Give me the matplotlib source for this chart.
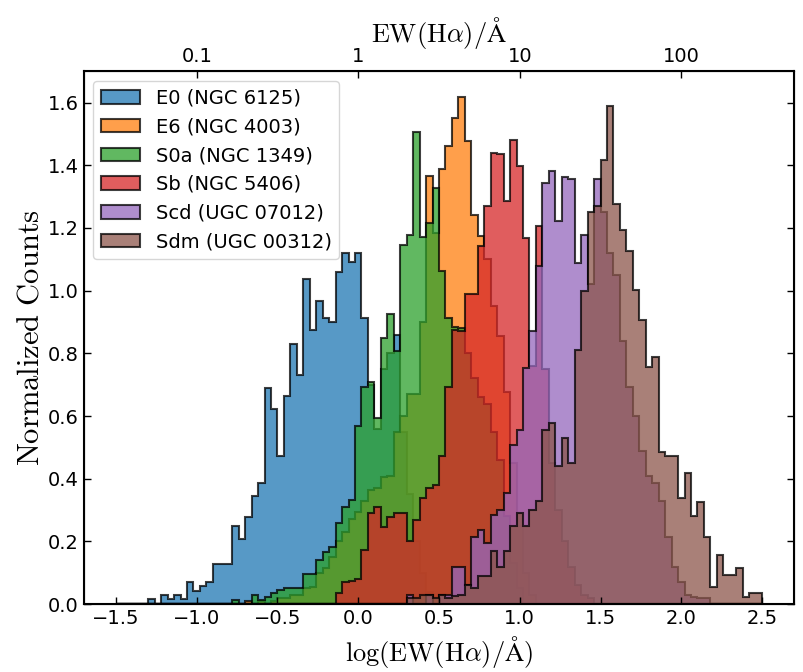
import numpy as np
import matplotlib
matplotlib.use("Agg")
import matplotlib.pyplot as plt

plt.rcParams["mathtext.fontset"] = "cm"

# Common binning in log(EW) space
bin_lo, bin_hi, n_bins = -1.5, 2.5, 100

labels = ["E0 (NGC 6125)", "E6 (NGC 4003)", "S0a (NGC 1349)",
          "Sb (NGC 5406)", "Scd (UGC 07012)", "Sdm (UGC 00312)"]
colors = ["#1f77b4", "#ff7f0e", "#2ca02c", "#d62728", "#9467bd", "#8c564b"]

# Normalized counts per bin, starting at the given bin index
e0_first = 5
e0_density = [0.015, 0.0, 0.029, 0.015, 0.029, 0.015, 0.071, 0.043, 0.057, 0.071,
              0.128, 0.128, 0.128, 0.249, 0.207, 0.279, 0.345, 0.388, 0.691, 0.622,
              0.471, 0.665, 0.83, 0.732, 1.037, 0.873, 0.968, 0.913, 0.899, 1.06,
              1.12, 1.09, 1.12, 0.913, 0.70, 0.56, 0.75, 0.80, 0.86, 0.55,
              0.35, 0.20, 0.10, 0.04]

e6_first = 20
e6_density = [0.01, 0.0, 0.01, 0.0, 0.01, 0.02, 0.02, 0.03, 0.03, 0.05,
              0.055, 0.098, 0.114, 0.15, 0.2, 0.231, 0.27, 0.295, 0.33, 0.364,
              0.37, 0.407, 0.41, 0.55, 0.6, 0.67, 0.67, 0.9, 1.367, 1.184,
              1.387, 1.46, 1.552, 1.619, 1.477, 1.24, 1.174, 1.1, 0.95, 0.854,
              0.678, 0.45, 0.25, 0.1, 0.03]

s0a_first = 18
s0a_density = [0.013, 0.0, 0.0, 0.029, 0.013, 0.023, 0.036, 0.045, 0.053, 0.053,
               0.053, 0.096, 0.096, 0.141, 0.167, 0.183, 0.258, 0.311, 0.332, 0.567,
               0.694, 0.71, 0.593, 0.849, 0.924, 0.806, 1.147, 1.179, 1.507, 1.17,
               1.216, 1.328, 1.062, 0.913, 0.884, 0.88, 0.8, 0.72, 0.66, 0.64,
               0.55, 0.46, 0.28, 0.13, 0.05]

sb_first = 34
sb_density = [0.035, 0.07, 0.075, 0.08, 0.172, 0.29, 0.31, 0.247, 0.279, 0.29,
              0.29, 0.2, 0.268, 0.338, 0.37, 0.38, 0.471, 0.694, 0.875, 0.87,
              0.99, 0.99, 1.142, 1.27, 1.44, 1.435, 1.285, 1.48, 1.397, 1.168,
              0.76, 1.206, 0.75, 0.45, 0.3, 0.2, 0.12, 0.06, 0.03, 0.02]

scd_first = 45
scd_density = [0.03, 0.0, 0.0, 0.03, 0.0, 0.03, 0.03, 0.12, 0.12, 0.06,
               0.215, 0.236, 0.194, 0.284, 0.30, 0.354, 0.508, 0.556, 0.753, 0.87,
               1.078, 1.344, 1.383, 1.222, 1.363, 1.355, 1.088, 1.179, 1.02, 1.355,
               1.25, 1.12, 1.05, 0.84, 0.694, 0.6, 0.49, 0.41, 0.385, 0.33,
               0.215, 0.12, 0.071, 0.03, 0.023, 0.02, 0.02]

sdm_first = 45
sdm_density = [0.02, 0.02, 0.03, 0.03, 0.02, 0.03, 0.02, 0.025, 0.03, 0.06,
               0.05, 0.09, 0.09, 0.17, 0.12, 0.17, 0.25, 0.29, 0.25, 0.3,
               0.33, 0.556, 0.577, 0.44, 0.53, 0.45, 0.81, 1.0, 1.25, 1.27,
               1.418, 1.589, 1.275, 1.195, 1.126, 1.003, 0.907, 0.758, 0.788, 0.485,
               0.474, 0.474, 0.338, 0.417, 0.282, 0.327, 0.215, 0.055, 0.157, 0.093,
               0.093, 0.114, 0.023, 0.034, 0.034]

series = [(e0_first, e0_density), (e6_first, e6_density), (s0a_first, s0a_density),
          (sb_first, sb_density), (scd_first, scd_density), (sdm_first, sdm_density)]

edges = np.linspace(bin_lo, bin_hi, n_bins + 1)
centers = 0.5 * (edges[:-1] + edges[1:])

fig = plt.figure(figsize=(8.04, 6.72), dpi=100)
ax = fig.add_axes([0.104, 0.101, 0.884, 0.793])

for (first, dens), lab, col in zip(series, labels, colors):
    weights = np.zeros(n_bins)
    weights[first:first + len(dens)] = dens
    ax.hist(centers, bins=edges, weights=weights, histtype="stepfilled",
            facecolor=col, edgecolor="black", linewidth=1.5, alpha=0.75,
            label=lab)

ax.set_xlim(-1.7, 2.7)
ax.set_ylim(0, 1.70)
ax.set_xticks([-1.5, -1.0, -0.5, 0.0, 0.5, 1.0, 1.5, 2.0, 2.5])
ax.set_yticks([0.0, 0.2, 0.4, 0.6, 0.8, 1.0, 1.2, 1.4, 1.6])
ax.tick_params(direction="in", top=True, right=True, labelsize=14,
               length=5, width=1)
ax.set_xlabel(r"$\mathrm{log(EW(H}\alpha\mathrm{)/\AA)}$", fontsize=19,
              labelpad=4)
ax.set_ylabel(r"$\mathrm{Normalized\ Counts}$", fontsize=22, labelpad=2)

top = ax.twiny()
top.set_xlim(ax.get_xlim())
top.set_xticks([-1, 0, 1, 2])
top.set_xticklabels(["0.1", "1", "10", "100"])
top.tick_params(direction="in", labelsize=14, length=5, width=1)
top.set_xlabel(r"$\mathrm{EW(H}\alpha\mathrm{)/\AA}$", fontsize=19)

for sp in ax.spines.values():
    sp.set_linewidth(1.5)

ax.legend(loc="upper left", fontsize=14, framealpha=0.8)

fig.savefig("out.png", dpi=100)
